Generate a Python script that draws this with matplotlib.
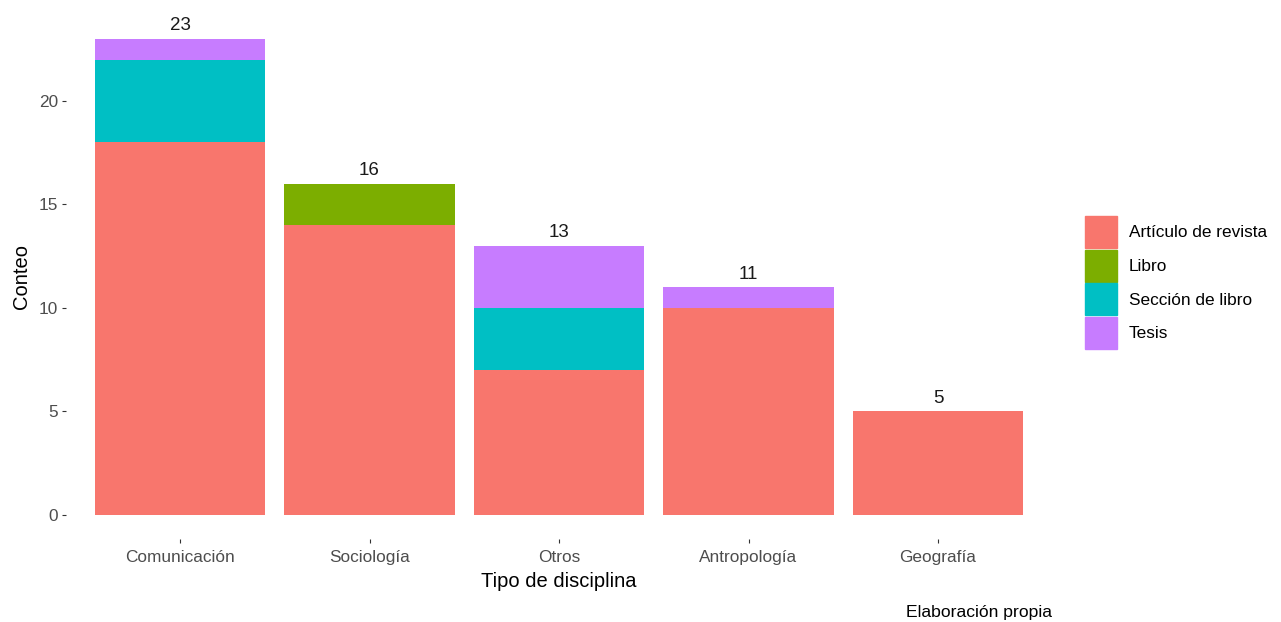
import matplotlib
matplotlib.use("Agg")
import matplotlib.pyplot as plt
import numpy as np

plt.rcParams['font.family'] = ['Liberation Sans', 'DejaVu Sans']

disciplinas = ["Comunicación", "Sociología", "Otros", "Antropología", "Geografía"]
tipos = ["Artículo de revista", "Libro", "Sección de libro", "Tesis"]
articulo = [18, 14, 7, 10, 5]
libro = [0, 2, 0, 0, 0]
seccion = [4, 0, 3, 0, 0]
tesis = [1, 0, 3, 1, 0]
colores = ["#F8766D", "#7CAE00", "#00BFC4", "#C77CFF"]

series = [articulo, libro, seccion, tesis]

fig = plt.figure(figsize=(12.81, 6.22), dpi=100)
ax = fig.add_axes([66.3/1281, 1 - 538.8/622, (1051.7-66.3)/1281, (538.8-15)/622])

x = np.arange(1, len(disciplinas) + 1)
bottom = np.zeros(len(disciplinas))
for vals, col, lab in zip(series, colores, tipos):
    v = np.array(vals, dtype=float)
    ax.bar(x, v, width=0.9, bottom=bottom, color=col, label=lab, linewidth=0)
    bottom += v

totals = bottom
for xi, t in zip(x, totals):
    ax.text(xi, t + 0.22, f"{int(t)}", ha='center', va='bottom', fontsize=13.5, color='#1a1a1a')

ax.set_xlim(0.4, 5.6)
ax.set_ylim(-1.15, 24.15)
ax.set_xticks(x)
ax.set_xticklabels(disciplinas)
ax.set_yticks([0, 5, 10, 15, 20])
for s in ax.spines.values():
    s.set_visible(False)
ax.tick_params(axis='both', colors='#333333', labelcolor='#4D4D4D', labelsize=12.4, length=2.8, width=0.8)
ax.tick_params(axis='x', pad=5)
ax.tick_params(axis='y', pad=3)
ax.set_xlabel("Tipo de disciplina", fontsize=14.5, labelpad=5)
ax.set_ylabel("Conteo", fontsize=14.5, labelpad=6)

fig.text(1052/1281, 1 - 613/622, "Elaboración propia", ha='right', va='center', fontsize=12.6, color='black')

fs = 12.4
px = fs * 100 / 72
hh = (32 / px - 0.245) / 0.65
fig.legend(handles=[plt.Rectangle((0, 0), 1, 1, color=c) for c in colores], labels=tipos,
           loc='upper left', bbox_to_anchor=(1085/1281, 1 - 216/622), frameon=False,
           fontsize=fs, handlelength=32/px, handleheight=hh, labelspacing=0.1,
           handletextpad=12/px, borderpad=0, borderaxespad=0)

fig.savefig("out.png", dpi=100)
